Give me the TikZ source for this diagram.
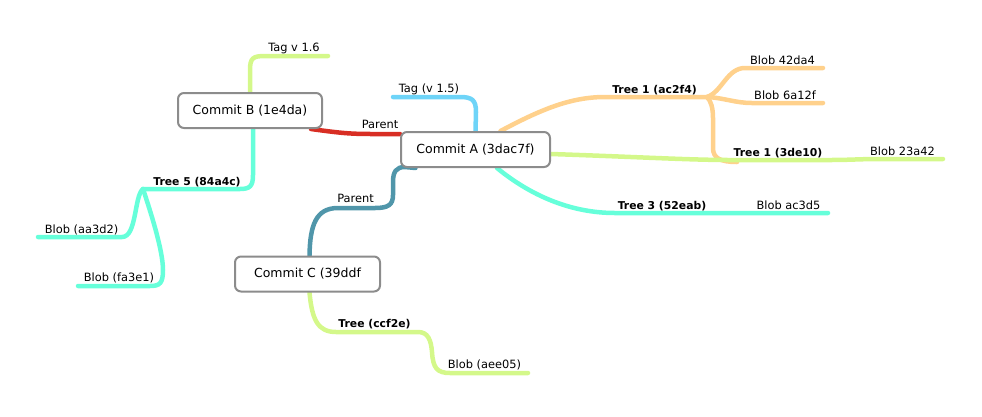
\documentclass[tikz,border=0pt]{standalone}
\usepackage{fontspec}
\setmainfont{DejaVu Sans}
\usetikzlibrary{backgrounds}

\definecolor{boxgray}{RGB}{140,140,140}
\definecolor{limeline}{RGB}{212,248,138}
\definecolor{orangeline}{RGB}{255,209,140}
\definecolor{blueline}{RGB}{110,212,248}
\definecolor{redline}{RGB}{216,46,36}
\definecolor{cyanline}{RGB}{102,255,218}
\definecolor{tealline}{RGB}{80,150,170}

\begin{document}
\begin{tikzpicture}[
    x=1pt, y=-1pt,
    commit/.style={rectangle, draw=boxgray, line width=2pt, fill=white, rounded corners=6pt, minimum height=35pt, inner sep=0pt, font=\fontsize{12.5}{15}\selectfont},
    topic/.style={anchor=base, inner sep=0pt, font=\fontsize{11.4}{13}\selectfont},
    treetopic/.style={topic, font=\fontsize{10.8}{13}\selectfont\bfseries},
    branch/.style={line width=4.5pt, line cap=round}
]
\useasboundingbox (0,0) rectangle (982,416);

% Commit boxes
\node (commitB) at (250,110.5) [commit, minimum width=144pt] {Commit B (1e4da)};
\node (commitA) at (475.5,149.5) [commit, minimum width=149pt] {Commit A (3dac7f)};
\node (commitC) at (307.5,274) [commit, minimum width=145pt] {Commit C (39ddf};

% Topics
\node (tagB) at (294,51) [topic] {Tag v 1.6};
\node (parentB) at (380,128) [topic] {Parent};
\node (tagA) at (429,92) [topic] {Tag (v 1.5)};
\node (treeAC) at (654.5,93) [treetopic] {Tree 1 (ac2f4)};
\node (blob42) at (782.5,64) [topic] {Blob 42da4};
\node (blob6a) at (785,99) [topic] {Blob 6a12f};
\node (treeDE) at (778,156) [treetopic] {Tree 1 (3de10)};
\node (blob23) at (902.5,155) [topic] {Blob 23a42};
\node (tree52) at (662,209) [treetopic] {Tree 3 (52eab)};
\node (blobAC) at (788.5,209) [topic] {Blob ac3d5};
\node (tree84) at (197,185) [treetopic] {Tree 5 (84a4c)};
\node (blobAA) at (81.5,233) [topic] {Blob (aa3d2)};
\node (blobFA) at (119,281) [topic] {Blob (fa3e1)};
\node (parentC) at (355.5,202) [topic] {Parent};
\node (treeCC) at (374.5,327) [treetopic] {Tree (ccf2e)};
\node (blobAE) at (484.5,368) [topic] {Blob (aee05)};

% Branch ends and forks
\coordinate (tagBend) at (328,56);
\coordinate (tagAend) at (393,97);
\coordinate (forkAC) at (707,97);
\coordinate (blob42end) at (823,68);
\coordinate (blob6aend) at (823,103);
\coordinate (treeDEend) at (737,162);
\coordinate (blob23end) at (943,159);
\coordinate (blobACend) at (828,213);
\coordinate (fork84) at (143,189);
\coordinate (blobAAend) at (38,237);
\coordinate (blobFAend) at (78,286);
\coordinate (blobAEend) at (528,373);

% Branches
\begin{scope}[on background layer]
\draw [branch, limeline] (commitB.north) -- (250,70) .. controls (250,58) and (253,56) .. (265,56) -- (tagBend);
\draw [branch, redline] ([xshift=-12pt]commitB.south east) .. controls (340,133) and (350,134) .. (372,134) -- ([yshift=15.5pt]commitA.west);
\draw [branch, blueline] (commitA.north) -- (476,112) .. controls (476,100) and (472,97) .. (460,97) -- (tagAend);
\draw [branch, orangeline] ([xshift=25pt]commitA.north) .. controls (540,110) and (570,97) .. (605,97) -- (forkAC);
\draw [branch, orangeline] (forkAC) .. controls (722,92) and (727,68) .. (745,68) -- (blob42end);
\draw [branch, orangeline] (forkAC) .. controls (725,98) and (735,103) .. (752,103) -- (blob6aend);
\draw [branch, orangeline] (forkAC) .. controls (711,101) and (713,108) .. (713,118) -- (713,148) .. controls (713,158) and (720,162) .. (treeDEend);
\draw [branch, limeline] ([yshift=-4.5pt]commitA.east) .. controls (640,157) and (690,160) .. (730,160) -- (830,160) .. controls (850,160) and (860,159) .. (880,159) -- (blob23end);
\draw [branch, cyanline] ([xshift=21.5pt]commitA.south) .. controls (530,195) and (570,213) .. (615,213) -- (blobACend);
\draw [branch, cyanline] ([xshift=3pt]commitB.south) -- (253,175) .. controls (253,186) and (250,189) .. (240,189) -- (fork84);
\draw [branch, cyanline] (fork84) .. controls (134,196) and (137,237) .. (122,237) -- (blobAAend);
\draw [branch, cyanline] (fork84) .. controls (150,210) and (163,250) .. (163,270) .. controls (163,283) and (160,286) .. (150,286) -- (blobFAend);
\draw [branch, tealline] ([xshift=-60pt]commitA.south) -- (405,167) .. controls (396,167) and (393,172) .. (393,182) -- (393,195) .. controls (393,205) and (388,208) .. (375,208) -- (338,208) .. controls (316,208) and (310,225) .. ([xshift=2pt]commitC.north);
\draw [branch, limeline] ([xshift=2pt]commitC.south) .. controls (312,320) and (318,332) .. (336,332) -- (418,332) .. controls (428,332) and (431,340) .. (432,352) .. controls (433,368) and (437,373) .. (450,373) -- (blobAEend);
\end{scope}

\end{tikzpicture}
\end{document}
